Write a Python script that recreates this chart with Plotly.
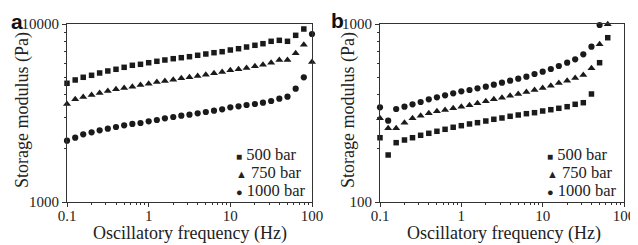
import plotly.graph_objects as go

# ---------------- data ----------------
freq = [0.1, 0.126, 0.158, 0.2, 0.251, 0.316, 0.398, 0.501, 0.631, 0.794,
        1.0, 1.26, 1.58, 2.0, 2.51, 3.16, 3.98, 5.01, 6.31, 7.94,
        10.0, 12.6, 15.8, 20.0, 25.1, 31.6, 39.8, 50.1, 63.1, 79.4, 100.0]

# panel a (Pa)
a_500 = [4644, 4848, 5019, 5150, 5306, 5445, 5566, 5711, 5861, 5937,
         6061, 6172, 6277, 6384, 6467, 6551, 6671, 6784, 6899, 6989,
         7144, 7265, 7425, 7592, 7751, 7995, 8097, 7995, 8638, 9374]
a_750 = [3552, 3776, 3890, 3992, 4097, 4204, 4297, 4370, 4444, 4543,
         4619, 4722, 4783, 4865, 4954, 5019, 5104, 5191, 5284, 5374,
         5494, 5566, 5660, 5786, 5906, 6061, 6277, 6277, 6846, 7651, 6116]
a_1000 = [2210, 2297, 2401, 2464, 2528, 2581, 2638, 2697, 2744, 2779,
          2841, 2889, 2953, 3003, 3054, 3094, 3150, 3204, 3258, 3318,
          3404, 3449, 3507, 3552, 3613, 3693, 3804, 3904, 4330, 5019, 8786]

# panel b (Pa)
b_500 = [229.7, 183.7, 215.4, 223.0, 229.7, 237.0, 243.2, 249.6, 256.1, 262.9,
         268.4, 274.4, 279.0, 285.1, 291.5, 296.5, 303.0, 308.2, 313.4, 317.5,
         324.5, 330.0, 336.1, 343.1, 353.9, 361.3, 404.4, 606.1, 837.5]
b_750 = [295.3, 259.4, 259.4, 279.0, 295.3, 305.4, 315.0, 323.3, 328.8, 336.1,
         343.1, 349.3, 358.4, 367.9, 377.6, 385.5, 395.6, 404.4, 414.9, 425.9,
         437.0, 450.2, 466.1, 480.3, 497.4, 517.2, 563.8, 769.1, 996.0]
b_1000 = [340.4, 286.2, 333.0, 343.1, 353.9, 364.6, 377.6, 387.5, 397.6, 408.1,
          418.8, 425.9, 435.4, 444.4, 456.0, 468.0, 480.3, 492.9, 505.8, 523.8,
          539.6, 558.8, 580.8, 606.1, 633.4, 675.6, 745.5, 987.0]

series_names = ["500 bar", "750 bar", "1000 bar"]
symbols = ["square", "triangle-up", "circle"]
x_tickvals = [0.1, 1, 10, 100]
x_ticktext = ["0.1", "1", "10", "100"]
ya_tickvals = [1000, 10000]
ya_ticktext = ["1000", "10000"]
yb_tickvals = [100, 1000]
yb_ticktext = ["100", "1000"]
x_title = "Oscillatory frequency (Hz)"
y_title = "Storage modulus (Pa)"

# ---------------- figure ----------------
# the page body has an 8px margin, so the figure is 8px smaller and
# reference pixel coordinates are shifted by 8
OFF = 8
W, H = 638 - OFF, 245 - OFF
def px(X):
    return (X - OFF) / W
def py(Y):
    return 1 - (Y - OFF) / H

INK = "#1a1a1a"
AX = "#333333"
TXT = "#222222"
SERIF = "Liberation Serif"
SANS = "Liberation Sans"

fig = go.Figure()
sizes = {"square": 5.5, "triangle-up": 7, "circle": 6.2}

for data, sym, name in zip([a_500, a_750, a_1000], symbols, series_names):
    fig.add_trace(go.Scatter(x=freq[:len(data)], y=data, mode="markers", name=name,
                             marker=dict(symbol=sym, size=sizes[sym], color=INK),
                             cliponaxis=False, showlegend=False,
                             xaxis="x", yaxis="y"))
for data, sym, name in zip([b_500, b_750, b_1000], symbols, series_names):
    fig.add_trace(go.Scatter(x=freq[:len(data)], y=data, mode="markers", name=name,
                             marker=dict(symbol=sym, size=sizes[sym], color=INK),
                             cliponaxis=False, showlegend=False,
                             xaxis="x2", yaxis="y2"))

minor_x = [m * 10.0 ** e for e in (-1, 0, 1) for m in range(2, 10)]
minor_ya = [m * 1000 for m in range(2, 10)]
minor_yb = [m * 100 for m in range(2, 10)]

ydom = [py(202), py(24)]

def xaxis(domain, anchor):
    return dict(type="log", domain=domain, anchor=anchor, range=[-1, 2],
                tickvals=x_tickvals, ticktext=x_ticktext,
                ticks="outside", ticklen=4, tickwidth=1, tickcolor=AX,
                minor=dict(tickvals=minor_x, ticks="outside", ticklen=2, tickcolor=AX, showgrid=False),
                showline=True, linecolor=AX, linewidth=1, mirror=True,
                showgrid=False, zeroline=False, automargin=False,
                ticklabelstandoff=-4,
                tickfont=dict(family=SERIF, size=15, color=TXT))

def yaxis(anchor, rng, tv, tt, minor_vals):
    return dict(type="log", domain=ydom, anchor=anchor, range=rng,
                tickvals=tv, ticktext=tt,
                ticks="outside", ticklen=4, tickwidth=1, tickcolor=AX,
                minor=dict(tickvals=minor_vals, ticks="outside", ticklen=2, tickcolor=AX, showgrid=False),
                showline=True, linecolor=AX, linewidth=1, mirror=True,
                showgrid=False, zeroline=False, automargin=False,
                tickfont=dict(family=SERIF, size=15, color=TXT))

fig.update_layout(
    width=W, height=H,
    margin=dict(l=0, r=0, t=0, b=0),
    paper_bgcolor="white", plot_bgcolor="white",
    showlegend=False,
    font=dict(family=SERIF),
    xaxis=xaxis([px(67), px(312)], "y"),
    yaxis=yaxis("x", [3, 4], ya_tickvals, ya_ticktext, minor_ya),
    xaxis2=xaxis([px(380), px(624)], "y2"),
    yaxis2=yaxis("x2", [2, 3], yb_tickvals, yb_ticktext, minor_yb),
)

ann = []
def text(t, X, Y, size, family=SERIF, angle=0, xanchor="center", color=TXT, align="center"):
    ann.append(dict(text=t, x=px(X), y=py(Y), xref="paper", yref="paper",
                    showarrow=False, textangle=angle, xanchor=xanchor, yanchor="middle",
                    align=align, font=dict(family=family, size=size, color=color)))

# panel letters
text("<b>a</b>", 16.5, 21, 21, SANS, color="#111")
text("<b>b</b>", 337, 20, 21, SANS, color="#111")
# axis titles
text(y_title, 22, 110, 18, angle=-90)
text(y_title, 348, 110, 18, angle=-90)
text(x_title, 190, 233, 18)
text(x_title, 504, 233, 18)
# legends: one multi-line text block per panel (base size sets the 18px row pitch)
glyphs = ["■", "▲", "●"]
gsize = [10, 11, 11]
rows = [f"<span style='font-size:{gs}px'>{g}</span><span style='font-size:16.5px'> {nm}</span>"
        for g, gs, nm in zip(glyphs, gsize, series_names)]
legend_text = "<br>".join(rows)
for x0 in (234, 545):
    text(legend_text, x0, 172.3, 13.85, xanchor="left", align="left")
fig.update_layout(annotations=ann)

fig.write_html("out.html")
